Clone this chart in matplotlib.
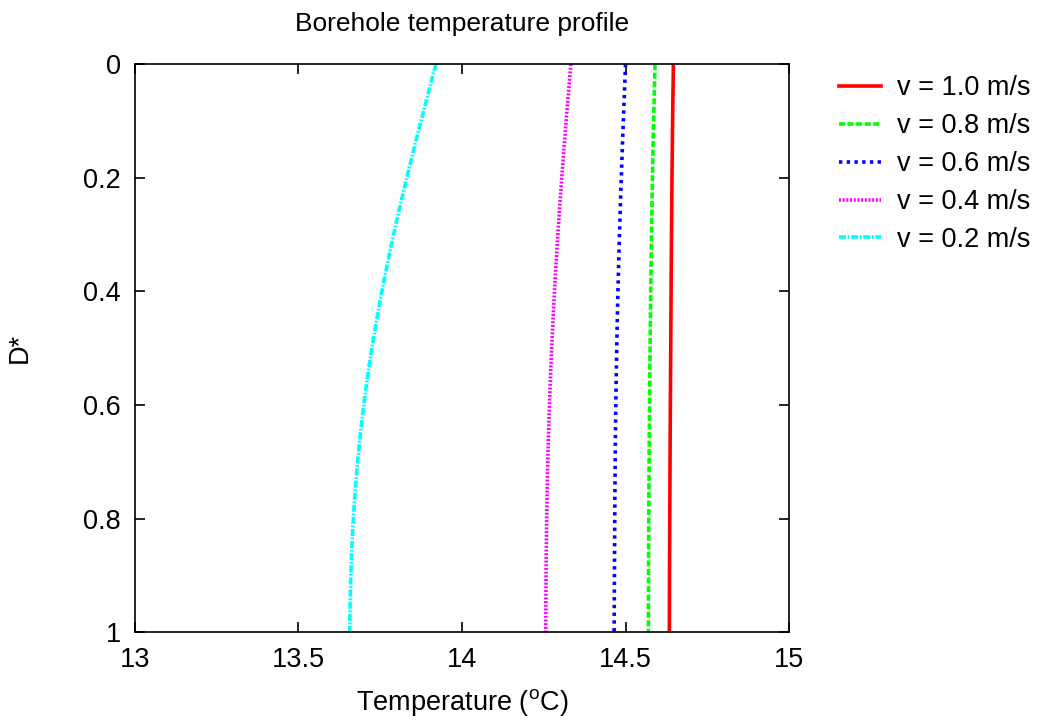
import numpy as np
import matplotlib.pyplot as plt

plt.rcParams['font.family'] = ['Liberation Sans', 'DejaVu Sans']
plt.rcParams['mathtext.fontset'] = 'custom'
plt.rcParams['mathtext.rm'] = 'Liberation Sans'

# normalised depth and temperature profiles for each flow velocity
depth = [0.0, 0.1, 0.2, 0.3, 0.4, 0.5, 0.6, 0.7, 0.8, 0.9, 1.0]
t_v10 = [14.646, 14.644, 14.642, 14.640, 14.639, 14.638, 14.637, 14.636, 14.635, 14.634, 14.634]
t_v08 = [14.590, 14.586, 14.582, 14.579, 14.577, 14.575, 14.573, 14.572, 14.571, 14.570, 14.570]
t_v06 = [14.500, 14.493, 14.487, 14.481, 14.477, 14.473, 14.470, 14.468, 14.467, 14.466, 14.465]
t_v04 = [14.333, 14.318, 14.305, 14.293, 14.283, 14.274, 14.267, 14.262, 14.259, 14.257, 14.256]
t_v02 = [13.920, 13.875, 13.832, 13.790, 13.755, 13.725, 13.700, 13.681, 13.668, 13.660, 13.657]

labels = ['v = 1.0 m/s', 'v = 0.8 m/s', 'v = 0.6 m/s', 'v = 0.4 m/s', 'v = 0.2 m/s']
profiles = [t_v10, t_v08, t_v06, t_v04, t_v02]
colors = ['#ff0000', '#00ff00', '#0000ff', '#ff00ff', '#00ffff']
styles = ['-', (0, (1.67, 0.7)), (0, (0.92, 1.22)), (0, (0.55, 0.47)), (0, (1.95, 0.47, 0.47, 0.47))]

fig = plt.figure(figsize=(10.37, 7.2), dpi=100)
ax = fig.add_axes([0.130, 0.122, 0.631, 0.789])

# smooth between the read-off points
dd = np.linspace(0, 1, 200)
for t, c, ls, lab in zip(profiles, colors, styles, labels):
    coef = np.polyfit(depth, t, 4)
    ax.plot(np.polyval(coef, dd), dd, color=c, ls=ls, lw=2.6, label=lab)

ax.set_xlim(13, 15)
ax.set_ylim(1, 0)
ax.set_xticks([13, 13.5, 14, 14.5, 15])
ax.set_xticklabels(['13', '13.5', '14', '14.5', '15'])
ax.set_yticks([0, 0.2, 0.4, 0.6, 0.8, 1])
ax.set_yticklabels(['0', '0.2', '0.4', '0.6', '0.8', '1'])
ax.tick_params(direction='in', length=7, width=1.2, top=True, right=True,
               labelsize=19.5, pad=10)
ax.tick_params(axis='x', pad=11)
for s in ax.spines.values():
    s.set_linewidth(1.2)

ax.set_title('Borehole temperature profile', fontsize=19, pad=24)
ax.set_xlabel(r'Temperature ($^{\mathrm{o}}$C)', fontsize=19.5, labelpad=10)
ax.set_ylabel('D*', fontsize=19.5, labelpad=36.5)

ax.legend(loc='upper left', bbox_to_anchor=(0.8087, 0.8955), bbox_transform=fig.transFigure,
          frameon=False, fontsize=19.5, handlelength=1.56, handletextpad=0.6,
          labelspacing=0.44, borderaxespad=0, borderpad=0)

fig.savefig('out.png', dpi=100)
